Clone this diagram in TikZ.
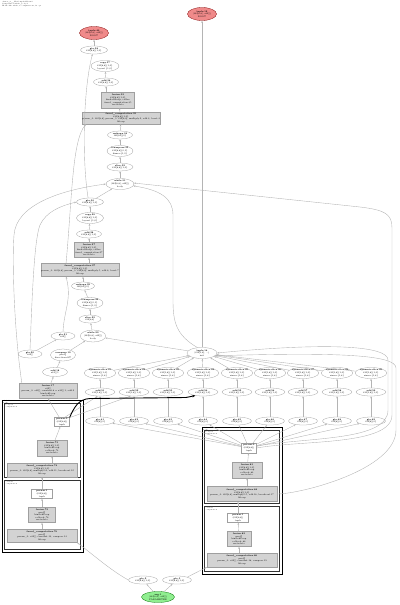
\documentclass[tikz,border=0pt]{standalone}
\usetikzlibrary{arrows.meta,shapes.geometric}
\definecolor{parmred}{HTML}{F08A8A}
\definecolor{rootgreen}{HTML}{90EE90}
\definecolor{fusgray}{HTML}{D3D3D3}
\definecolor{edgegray}{HTML}{B4B4B4}
\tikzset{
  lbl/.style={font=\fontsize{6.4}{7.4}\selectfont,align=center,inner sep=0pt},
  op/.style={lbl,ellipse,draw=gray!75,line width=0.8pt,fill=white,minimum width=27mm,minimum height=8mm},
  op3/.style={op,minimum width=28mm,minimum height=11mm},
  parm/.style={op3,fill=parmred,draw=red!50!black,minimum width=29mm,minimum height=13mm},
  outp/.style={op3,fill=rootgreen,draw=green!45!black,minimum width=33mm,minimum height=11mm},
  fus/.style={lbl,rectangle,draw=gray!75,line width=0.8pt,fill=fusgray,minimum width=30mm,minimum height=16mm},
  wide/.style={fus,minimum width=70mm,minimum height=12mm},
  tup/.style={lbl,rectangle,draw=gray!75,line width=0.8pt,fill=white,minimum width=16mm,minimum height=9mm},
  dep/.style={draw=edgegray,line width=1.1pt,-{Stealth[length=2.2mm,width=1.6mm]}},
  thk/.style={draw=black,line width=0.9mm,-{Stealth[length=3mm,width=2.4mm]}},
  frame/.style={draw=black,line width=1mm},
  sub/.style={draw=black!80,line width=0.8mm},
  clab/.style={font=\fontsize{4.5}{5.2}\selectfont,align=left,inner sep=0pt,anchor=north west}
}
\begin{document}
\begin{tikzpicture}[x=1mm,y=-1mm]
\useasboundingbox (0,0) rectangle (400,605);
\node[clab] (hdr) at (2,1.5) {cluster\_0\_\_XlaCompiledKernel\\Computation while\_body.7\\HloModule while, 2 computations, 71 ops};
% ---------- upper chain ----------
\node[parm] (root) at (94,33) {\textbf{tuple.40}\\(f32[8,8], s32[])\\ROOT};
\node[parm] (root2) at (202,14) {\textbf{tuple.12}\\(f32[8,8], s32[])\\ROOT};
\node[op] (gte38) at (94,50) {\textbf{gte.38}\\f32[8,8]\{1,0\}};
\node[op3] (copy37) at (105,66) {\textbf{copy.37}\\f32[8,8]\{1,0\}\\layout \{1,0\}};
\node[op,minimum width=25mm] (add36) at (106,82) {\textbf{add.36}\\f32[8,8]\{1,0\}};
\node[fus,minimum width=33mm] (fus35) at (118,100) {\textbf{fusion.35}\\f32[8,8]\{1,0\}\\kind=kLoop, calls=\\fused\_computation.35\\metadata};
\node[wide] (fc35) at (121,118) {\textbf{fused\_computation.35}\\f32[8,8]\{1,0\}\\param\_0: f32[8,8], param\_1: f32[8,8], multiply.2, add.3, bcast.4\\kLoop};
\node[op,minimum width=25mm] (resh34) at (120,135) {\textbf{reshape.34}\\f32[64]\{0\}};
\node[op3,minimum width=26mm] (tr33) at (120,151) {\textbf{transpose.33}\\f32[8,8]\{0,1\}\\dims=\{1,0\}};
\node[op,minimum width=26mm] (sl32) at (120,167) {\textbf{slice.32}\\f32[8,8]\{1,0\}};
\node[op3] (wh31) at (120,184) {\textbf{while.31}\\(f32[8,8], s32[])\\body};
% ---------- lower chain ----------
\node[op] (gte30) at (90,202) {\textbf{gte.30}\\f32[8,8]\{1,0\}};
\node[op3,minimum width=27mm] (copy29) at (90,218) {\textbf{copy.29}\\f32[8,8]\{1,0\}\\layout \{1,0\}};
\node[op,minimum width=25mm] (add28) at (89,234) {\textbf{add.28}\\f32[8,8]\{1,0\}};
\node[fus,minimum width=29mm,minimum height=15mm] (fus27) at (89,250) {\textbf{fusion.27}\\f32[8,8]\{1,0\}\\kind=kLoop, calls=\\fused\_computation.27\\metadata};
\node[wide,minimum width=66mm,minimum height=13mm] (fc27) at (80,270) {\textbf{fused\_computation.27}\\f32[8,8]\{1,0\}\\param\_0: f32[8,8], param\_1: f32[8,8], multiply.5, add.6, bcast.7\\kLoop};
\node[op,minimum width=23mm] (resh25) at (83,286) {\textbf{reshape.25}\\f32[64]\{0\}};
\node[op3,minimum width=26mm] (tr24) at (90,303) {\textbf{transpose.24}\\f32[8,8]\{0,1\}\\dims=\{1,0\}};
\node[op,minimum width=22mm] (sl23) at (90,319) {\textbf{slice.23}\\f32[8,8]};
\node[op3,minimum width=25mm,minimum height=12mm] (wh22) at (93,336) {\textbf{while.22}\\(f32[8,8], s32[])\\body};
\node[op,minimum width=24mm] (gte21) at (63,336) {\textbf{gte.21}\\s32[]};
\node[op,minimum width=24mm] (gte20) at (30,354) {\textbf{gte.20}\\s32[]};
\node[op3,minimum width=25mm,minimum height=12mm] (cmp19) at (63,355) {\textbf{compare.19}\\pred[]\\direction=LT};
\node[op,minimum width=25mm,minimum height=9mm] (add18) at (55,372) {\textbf{add.18}\\s32[] 1};
\node[fus,minimum width=58mm,minimum height=15mm] (fus17) at (48,391) {\textbf{fusion.17}\\s32[]\\param\_0: s32[], constant.8 = s32[] 1, add.9\\kind=kLoop\\metadata};
\node[op3,minimum width=30mm] (tup16) at (202,353) {\textbf{tuple.16}\\(f32[1,8], ...)\\init};
% ---------- slice rows ----------
\foreach \xx [count=\i] in {100,134,168,203,237,270,303,337,371}{
  \pgfmathtruncatemacro{\na}{40+\i}
  \pgfmathtruncatemacro{\nb}{50+\i}
  \pgfmathtruncatemacro{\nc}{60+\i}
  \node[op3,minimum width=30mm] (ds\i) at (\xx,373) {\textbf{dynamic-slice.\na}\\f32[1,8]\{1,0\}\\sizes=\{1,8\}};
  \node[op,minimum width=30mm] (ad\i) at (\xx,392) {\textbf{add.\nb}\\f32[1,8]\{1,0\}};
  \node[op,minimum width=29mm] (gt\i) at (\xx,421) {\textbf{gte.\nc}\\f32[8]\{0\}};
}
% ---------- left while cluster ----------
\draw[frame] (2,400) rectangle (83,552);
\draw[sub] (4.5,403) rectangle (80.5,477);
\draw[sub] (4.5,480) rectangle (80.5,549.5);
\node[clab] (lwt) at (3,400.8) {while.70\\body};
\node[clab] (lbt) at (5.5,404) {body.71\\computation};
\node[clab] (lct) at (5.5,481) {cond.72\\computation};
\node[tup,minimum width=15mm] (lprm) at (62,422) {\textbf{param.0}\\(f32[8,8])\\tuple};
\node[fus] (lfus) at (52,448) {\textbf{fusion.73}\\f32[8,8]\{1,0\}\\kind=kLoop\\calls=fc.74\\metadata};
\node[wide,minimum height=14mm] (lfc) at (42,470) {\textbf{fused\_computation.74}\\f32[8,8]\{1,0\}\\param\_0: f32[8,8], multiply.10, add.11, broadcast.12\\kLoop};
\node[tup,minimum width=21mm] (lprm2) at (42,494) {\textbf{param.1}\\(f32[8,8])\\tuple};
\node[fus,minimum width=27mm,minimum height=15mm] (lfus2) at (42,515) {\textbf{fusion.75}\\pred[]\\kind=kLoop\\calls=fc.76\\metadata};
\node[wide,minimum height=13mm] (lfc2) at (42,536) {\textbf{fused\_computation.76}\\pred[]\\param\_0: s32[], constant.13, compare.14\\kLoop};
% ---------- right while cluster ----------
\draw[frame] (202,427) rectangle (282,574);
\draw[sub] (204.5,430) rectangle (279.5,503);
\draw[sub] (204.5,506) rectangle (279.5,571.5);
\node[clab] (rwt) at (203,427.8) {while.80\\body};
\node[clab] (rbt) at (205.5,431) {body.81\\computation};
\node[clab] (rct) at (205.5,507) {cond.82\\computation};
\node[tup,minimum width=15mm,minimum height=10mm] (rprm) at (249,448) {\textbf{param.0}\\(f32[8,8])\\tuple};
\node[fus,minimum height=16mm] (rfus) at (247,470) {\textbf{fusion.83}\\f32[8,8]\{1,0\}\\kind=kLoop\\calls=fc.84\\metadata};
\node[wide,minimum height=15mm] (rfc) at (242,494) {\textbf{fused\_computation.84}\\f32[8,8]\{1,0\}\\param\_0: f32[8,8], multiply.15, add.16, broadcast.17\\kLoop};
\node[tup,minimum width=21mm] (rprm2) at (238,518) {\textbf{param.1}\\(f32[8,8])\\tuple};
\node[fus,minimum width=24mm,minimum height=15mm] (rfus2) at (239,539) {\textbf{fusion.85}\\pred[]\\kind=kLoop\\calls=fc.86\\metadata};
\node[wide,minimum height=14mm] (rfc2) at (242,560) {\textbf{fused\_computation.86}\\pred[]\\param\_0: s32[], constant.18, compare.19\\kLoop};
% ---------- inputs ----------
\node[op,minimum width=29mm] (gte2) at (143,580) {\textbf{gte.2}\\f32[8,8]\{1,0\}};
\node[op,minimum width=29mm] (gte3) at (177,580) {\textbf{gte.3}\\f32[8,8]\{1,0\}};
\node[outp] (arg) at (158,597) {\textbf{arg.1}\\(f32[8,8], s32[])\\PARAMETER};
% ---------- edges: chains ----------
\draw[dep] (gte38) -- (root);
\draw[dep] (add36) -- (copy37);
\draw[dep] (fus35.north -| add36) -- (add36);
\draw[dep] (fc35) -- (fus35);
\draw[dep] (resh34) -- (fc35);
\draw[dep] (tr33) -- (resh34);
\draw[dep] (sl32) -- (tr33);
\draw[dep] (wh31) -- (sl32);
\draw[dep] (gte30) -- (wh31);
\draw[dep] (copy29) -- (gte30);
\draw[dep] (add28) -- (copy29);
\draw[dep] (fus27) -- (add28);
\draw[dep] (fc27.north -| fus27) -- (fus27);
\draw[dep] (resh25) -- (fc27.south -| resh25);
\draw[dep] (tr24) -- (resh25);
\draw[dep] (sl23) -- (tr24);
\draw[dep] (wh22) -- (sl23);
\draw[dep] (gte20) -- (gte21);
\draw[dep] (cmp19) -- (wh22);
\draw[dep] (add18) -- (cmp19);
\draw[dep] (fus17) -- (add18);
\draw[dep] (tup16) -- (wh22);
\draw[dep] (tup16) -- (root2);
% long edges on the left
\draw[dep] (gte30.115) .. controls (82,160) and (83,90) .. (gte38.250);
\draw[dep] ([xshift=25mm]fc27.north west) .. controls (72,200) and (72,140) .. ([xshift=4mm]fc35.south west);
\draw[dep] (gte21.north) .. controls (64,310) and (72,300) .. ([xshift=25mm]fc27.south west);
\draw[dep] ([xshift=3mm]fus17.north west) .. controls (14,330) and (12,260) .. (14,235) .. controls (16,205) and (60,190) .. (wh31.west);
\draw[dep] (gte20.north) .. controls (32,300) and (34,240) .. (40,225) .. controls (46,212) and (60,206) .. (gte30.west);
% long edges on the right
\draw[dep] (tup16.130) .. controls (176,335) and (173,322) .. (173,300) -- (173,215) .. controls (173,198) and (160,190) .. (wh31.-8);
\draw[dep] (rprm.east) .. controls (300,440) and (392,446) .. (392,415) -- (392,228) .. controls (392,214) and (385,210) .. (360,207) -- (wh31.4);
\draw[dep] (rprm.15) .. controls (310,437) and (388,441) .. (388,410) -- (388,360) .. controls (388,346) and (330,342) .. (tup16.east);
\draw[dep] (rfc.east) .. controls (300,494) and (396,470) .. (396,430) -- (396,368) .. controls (396,355) and (340,352) .. (tup16.-12);
% ---------- edges: slice rows ----------
\foreach \i in {1,...,9}{
  \draw[dep] (ad\i) -- (ds\i);
  \draw[dep] (gt\i) -- (ad\i);
  \draw[dep] (ds\i) -- (tup16);
  \draw[dep] (rprm) -- (gt\i);
}
% ---------- edges: clusters ----------
\draw[dep] (lfus) -- (lprm);
\draw[dep] (lfc.north -| lfus) -- (lfus);
\draw[dep] (lprm2) -- (lfc);
\draw[dep] (lfus2) -- (lprm2);
\draw[dep] (lfc2) -- (lfus2);
\draw[dep] (lprm.120) -- (fus17.south);
\draw[dep] (lprm.60) -- (ad1.240);
\draw[dep] (lprm.30) -- (ad2.230);
\draw[thk] (lprm.north east) .. controls (74,408) and (78,399) .. (90,398.5) -- (186,397.5) .. controls (189,397) .. (ad4.205);
\draw[dep] (rfus) -- (rprm);
\draw[dep] (rfc.north -| rfus) -- (rfus);
\draw[dep] (rprm2) -- (rfc.south -| rprm2);
\draw[dep] (rfus2) -- (rprm2);
\draw[dep] (rfc2.north -| rfus2) -- (rfus2);
% ---------- edges: inputs ----------
\draw[dep] (arg) -- (gte2);
\draw[dep] (arg) -- (gte3);
\draw[dep] (gte2.west) .. controls (110,570) and (90,552) .. (lfc2.south east);
\draw[dep] (gte3.north east) -- (rfc2.south west);
\end{tikzpicture}
\end{document}
